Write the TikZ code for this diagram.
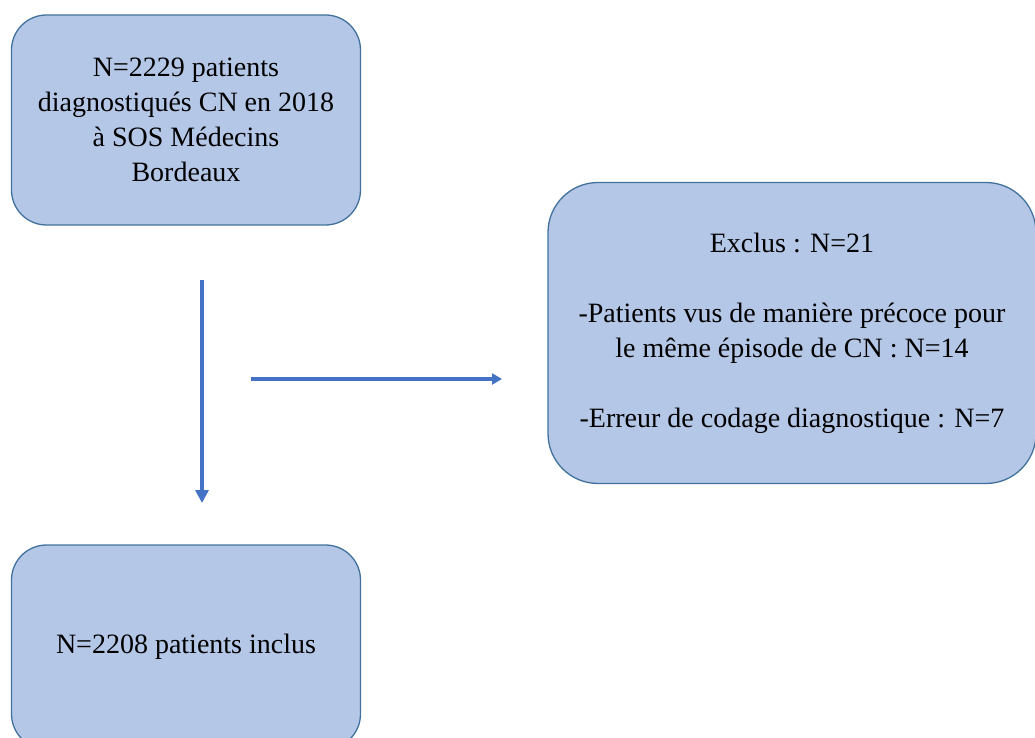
\documentclass[tikz,border=0pt]{standalone}
\usepackage{fontspec}
\setmainfont{Liberation Serif}
\newfontfamily\flowfont{Liberation Serif}
\usetikzlibrary{arrows.meta,positioning}
\definecolor{boxfill}{HTML}{B4C7E7}
\definecolor{boxline}{HTML}{41719C}
\definecolor{arrowblue}{HTML}{4472C4}
\tikzset{>={Triangle[length=13pt,width=13pt]}}
\tikzset{
  flowbox/.style={draw=boxline, line width=1.3pt, fill=boxfill, align=center,
    font=\flowfont\fontsize{28}{35}\selectfont, inner sep=0pt},
  flowarrow/.style={->, draw=arrowblue, line width=4.5pt}
}
\begin{document}
\begin{tikzpicture}[x=1pt,y=1pt]
  \useasboundingbox (0,0) rectangle (1035,737);
  \clip (0,0) rectangle (1035,737);
  \node[flowbox, rounded corners=35pt, minimum width=349pt, minimum height=210pt] (start) at (186,617) {N=2229 patients\\diagnostiqués CN en 2018\\à SOS Médecins\\Bordeaux};
  \node[flowbox, rounded corners=50pt, minimum width=488pt, minimum height=301pt] (excl) at (792,404) {Exclus : N=21\\[35pt]-Patients vus de manière précoce pour\\le même épisode de CN : N=14\\[35pt]-Erreur de codage diagnostique : N=7};
  \node[flowbox, rounded corners=35pt, minimum width=349pt, minimum height=204pt] (incl) at (186,90) {N=2208 patients inclus};
  \coordinate (v1) at (202,457);
  \coordinate (v2) at (202,234);
  \coordinate (h1) at (251,358);
  \coordinate (h2) at (502,358);
  \draw[flowarrow] (v1) -- (v2);
  \draw[flowarrow, line width=3.5pt, -{Triangle[length=10pt,width=11pt]}] (h1) -- (h2);
\end{tikzpicture}
\end{document}
